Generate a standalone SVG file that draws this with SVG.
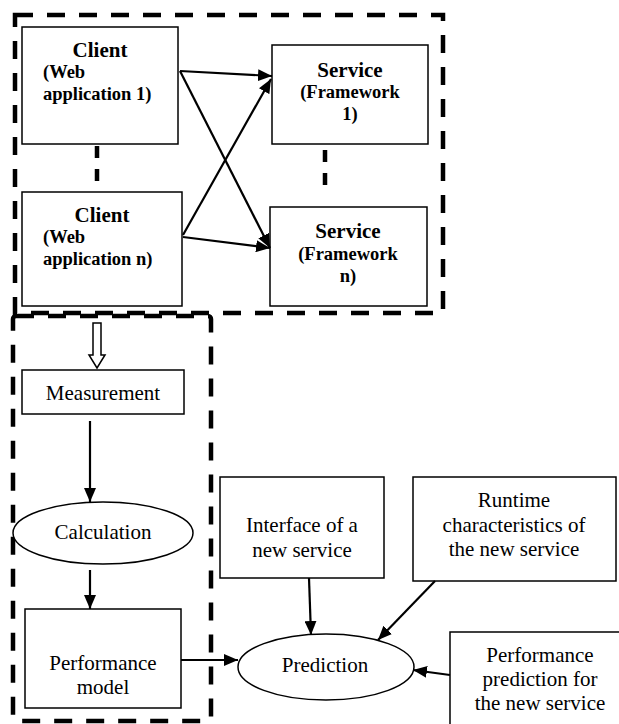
<svg xmlns="http://www.w3.org/2000/svg" width="619" height="724" viewBox="0 0 619 724">
<style>
.box{fill:#fff;stroke:#000;stroke-width:1.5}
.grp{fill:none;stroke:#000;stroke-width:4.5;stroke-dasharray:18 14}
.dash{fill:none;stroke:#000;stroke-width:4.5;stroke-dasharray:12 11}
text{font-family:'Liberation Serif','Times New Roman',Times,'DejaVu Serif',serif;fill:#000}
.t{font-size:21px}
.b{font-weight:bold}
.arr{fill:none;stroke:#000;stroke-width:2.2;marker-end:url(#ah)}
</style>
<defs>
<marker id="ah" markerUnits="userSpaceOnUse" markerWidth="16" markerHeight="12" refX="14" refY="6" orient="auto" viewBox="0 0 16 12">
<path d="M0,0 L14,6 L0,12 Z" fill="#000"/>
</marker>
</defs>
<rect width="619" height="724" fill="#fff"/>
<g id="group-top">
<rect class="grp" x="15" y="15" width="428" height="298"/>
</g>
<g id="group-left">
<rect class="grp" x="13" y="316" width="198" height="405" rx="3"/>
</g>
<g id="client1">
<rect class="box" x="22" y="27" width="156" height="117"/>
<text class="b" x="100" y="57" font-size="21" text-anchor="middle">Client</text>
<text class="b" x="43" y="78" font-size="18.5">(Web</text>
<text class="b" x="43" y="100" font-size="18.5">application 1)</text>
</g>
<g id="clientn">
<rect class="box" x="22" y="192" width="160" height="114"/>
<text class="b" x="102" y="222" font-size="21" text-anchor="middle">Client</text>
<text class="b" x="43" y="243" font-size="18.5">(Web</text>
<text class="b" x="43" y="265" font-size="18.5">application n)</text>
</g>
<g id="service1">
<rect class="box" x="272" y="45" width="156" height="99"/>
<text class="b" x="350" y="77" font-size="21" text-anchor="middle">Service</text>
<text class="b" x="350" y="98" font-size="18.5" text-anchor="middle">(Framework</text>
<text class="b" x="350" y="120" font-size="18.5" text-anchor="middle">1)</text>
</g>
<g id="servicen">
<rect class="box" x="270" y="207" width="157" height="99"/>
<text class="b" x="348" y="238" font-size="21" text-anchor="middle">Service</text>
<text class="b" x="348" y="260" font-size="18.5" text-anchor="middle">(Framework</text>
<text class="b" x="348" y="282" font-size="18.5" text-anchor="middle">n)</text>
</g>
<g id="measurement">
<rect class="box" x="22" y="370" width="162" height="44"/>
<text class="t" x="103" y="400" text-anchor="middle">Measurement</text>
</g>
<g id="calculation">
<ellipse class="box" cx="103" cy="533" rx="90" ry="31"/>
<text class="t" x="103" y="539" text-anchor="middle">Calculation</text>
</g>
<g id="performance-model">
<rect class="box" x="25" y="609" width="156" height="99"/>
<text class="t" x="103" y="670" text-anchor="middle">Performance</text>
<text class="t" x="103" y="694" text-anchor="middle">model</text>
</g>
<g id="interface">
<rect class="box" x="220" y="477" width="164" height="101"/>
<text class="t" x="302" y="532" text-anchor="middle">Interface of a</text>
<text class="t" x="302" y="557" text-anchor="middle">new service</text>
</g>
<g id="runtime">
<rect class="box" x="413" y="477" width="203" height="104"/>
<text class="t" x="514" y="507" text-anchor="middle">Runtime</text>
<text class="t" x="514" y="532" text-anchor="middle">characteristics of</text>
<text class="t" x="514" y="556" text-anchor="middle">the new service</text>
</g>
<g id="prediction">
<ellipse class="box" cx="326" cy="667" rx="88" ry="33"/>
<text class="t" x="325" y="672" text-anchor="middle">Prediction</text>
</g>
<g id="performance-prediction">
<rect class="box" x="450" y="632" width="175" height="100"/>
<text class="t" x="540" y="662" text-anchor="middle">Performance</text>
<text class="t" x="540" y="686" text-anchor="middle">prediction for</text>
<text class="t" x="540" y="710" text-anchor="middle">the new service</text>
</g>
<g id="connectors">
<line class="dash" x1="97" y1="146" x2="97" y2="188"/>
<line class="dash" x1="325" y1="150" x2="325" y2="186"/>
<line class="arr" x1="180" y1="71" x2="272" y2="76"/>
<line class="arr" x1="180" y1="71" x2="270" y2="248"/>
<line class="arr" x1="183" y1="235" x2="271" y2="79"/>
<line class="arr" x1="183" y1="237" x2="270" y2="248"/>
<polygon points="93,323 101,323 101,355 105,355 97,368 89,355 93,355" fill="#fff" stroke="#000" stroke-width="1.5"/>
<line class="arr" x1="90" y1="421" x2="90" y2="502"/>
<line class="arr" x1="90" y1="570" x2="90" y2="609"/>
<line class="arr" x1="181" y1="660" x2="238" y2="660"/>
<line class="arr" x1="309" y1="578" x2="311" y2="635"/>
<line class="arr" x1="435" y1="581" x2="378" y2="640"/>
<line class="arr" x1="450" y1="675" x2="413" y2="670"/>
</g>
</svg>
